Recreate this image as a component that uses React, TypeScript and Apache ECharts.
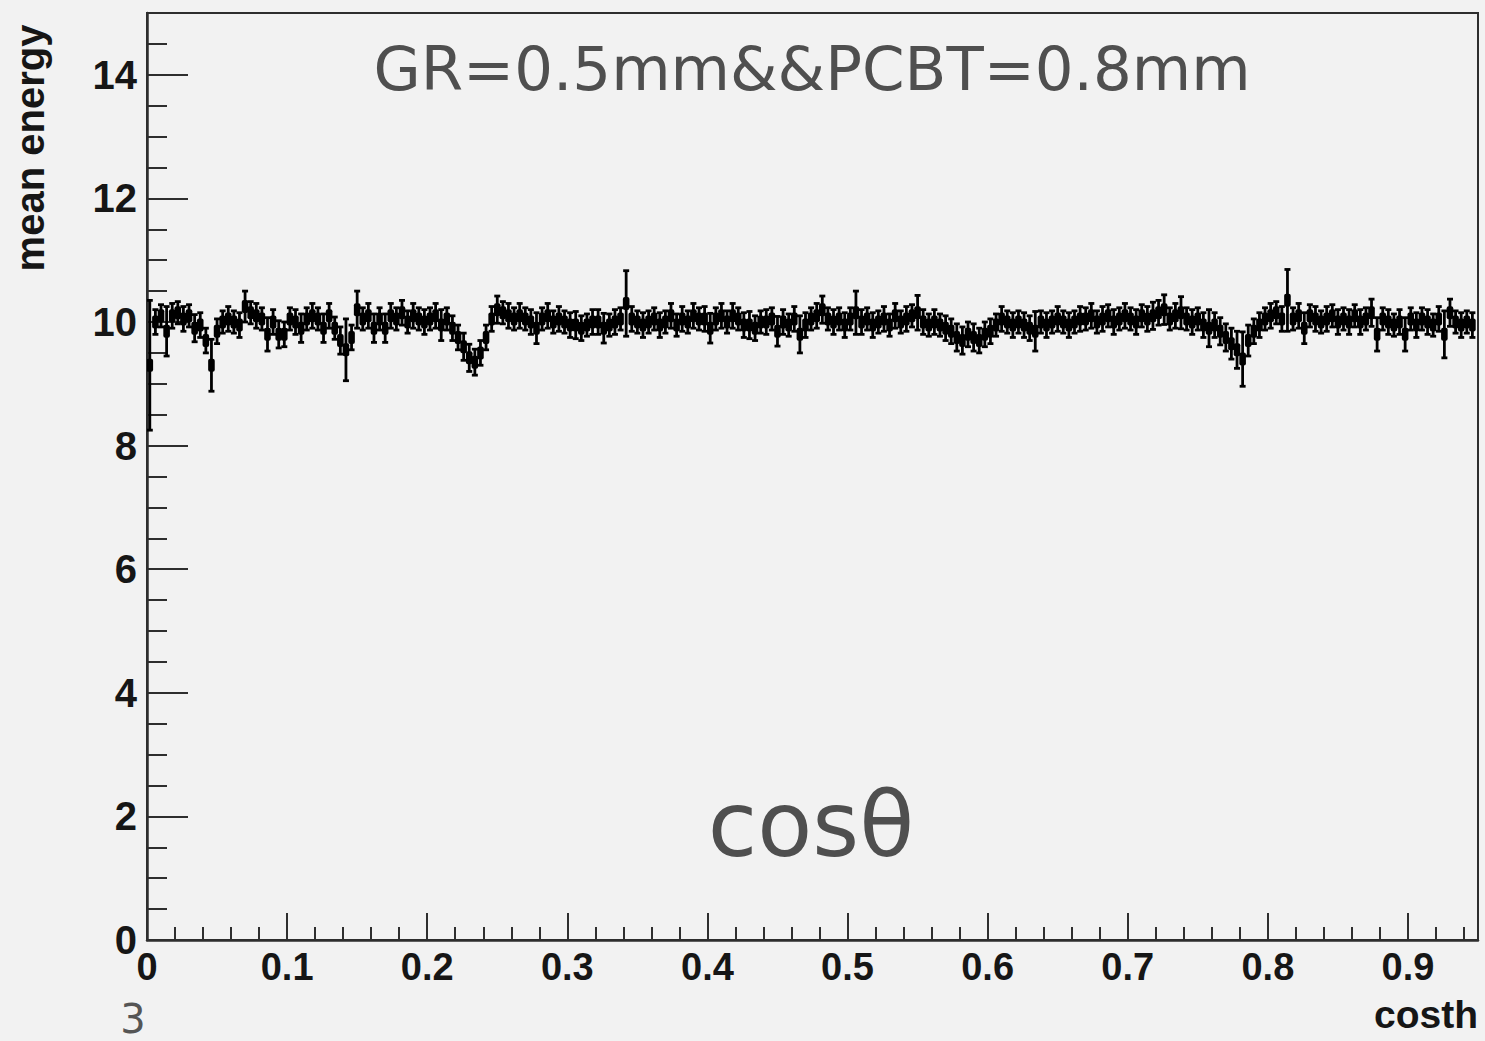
import React, { useEffect, useRef } from "react";
import * as echarts from "echarts";

// Histogram bins along costh
const BIN_START = 0.002;
const BIN_WIDTH = 0.004;

// mean energy per bin
const meanEnergy: number[] = [
  9.30, 10.00, 10.10, 9.85, 10.10, 10.15, 10.05, 10.10, 9.90, 9.95,
  9.70, 9.30, 9.85, 10.00, 10.05, 10.00, 9.95, 10.25, 10.15, 10.10,
  10.05, 9.80, 10.00, 9.80, 9.80, 10.05, 10.00, 9.90, 10.05, 10.10,
  10.05, 9.90, 10.10, 9.90, 9.70, 9.55, 9.75, 10.20, 10.05, 10.10,
  9.90, 10.05, 9.90, 10.10, 10.05, 10.15, 10.00, 10.10, 10.05, 10.00,
  10.05, 10.10, 9.95, 10.05, 9.90, 9.75, 9.60, 9.42, 9.35, 9.50,
  9.75, 10.05, 10.20, 10.15, 10.10, 10.05, 10.10, 10.05, 10.00, 9.90,
  10.05, 10.10, 10.00, 10.05, 10.00, 9.95, 9.95, 9.90, 9.95, 10.00,
  10.00, 9.90, 9.95, 10.00, 10.05, 10.30, 10.05, 10.00, 9.95, 10.00,
  10.05, 9.95, 10.00, 10.10, 9.95, 10.05, 10.00, 10.10, 10.05, 10.05,
  9.90, 10.05, 10.10, 10.00, 10.10, 10.05, 9.95, 9.95, 9.90, 10.00,
  10.00, 10.05, 9.85, 10.00, 9.95, 10.05, 9.80, 9.95, 10.05, 10.10,
  10.20, 10.05, 10.00, 10.05, 9.95, 10.05, 10.15, 10.00, 10.05, 9.95,
  10.00, 10.05, 9.95, 10.10, 10.00, 10.05, 10.10, 10.15, 10.00, 9.95,
  10.00, 9.95, 9.90, 9.85, 9.75, 9.70, 9.80, 9.75, 9.70, 9.80,
  9.85, 9.95, 10.05, 10.00, 9.95, 10.00, 9.95, 9.90, 9.85, 10.00,
  9.95, 10.00, 10.05, 10.00, 9.95, 10.00, 10.05, 10.05, 10.10, 10.00,
  10.05, 10.10, 10.00, 10.05, 10.10, 10.05, 10.00, 10.10, 10.05, 10.10,
  10.15, 10.20, 10.05, 10.10, 10.15, 10.05, 10.00, 10.05, 9.95, 9.90,
  9.95, 9.85, 9.75, 9.65, 9.55, 9.40, 9.70, 9.85, 9.95, 10.05,
  10.10, 10.15, 10.05, 10.35, 10.05, 10.10, 9.90, 10.10, 10.05, 10.00,
  10.05, 10.10, 10.00, 10.05, 10.00, 10.10, 10.00, 10.05, 10.15, 9.80,
  10.05, 10.00, 9.95, 10.00, 9.80, 10.05, 9.95, 10.05, 10.00, 9.95,
  10.05, 9.80, 10.15, 10.00, 9.95, 10.00, 9.95,
];

// error per bin
const meanEnergyErr: number[] = [
  1.05, 0.20, 0.18, 0.40, 0.20, 0.18, 0.20, 0.18, 0.22, 0.20,
  0.20, 0.42, 0.20, 0.18, 0.20, 0.18, 0.20, 0.25, 0.18, 0.20,
  0.18, 0.27, 0.20, 0.22, 0.20, 0.18, 0.20, 0.23, 0.18, 0.20,
  0.18, 0.23, 0.20, 0.18, 0.22, 0.50, 0.20, 0.30, 0.18, 0.20,
  0.23, 0.18, 0.23, 0.20, 0.18, 0.20, 0.18, 0.20, 0.18, 0.20,
  0.18, 0.20, 0.25, 0.18, 0.20, 0.20, 0.22, 0.22, 0.21, 0.20,
  0.20, 0.20, 0.22, 0.18, 0.20, 0.18, 0.20, 0.18, 0.20, 0.25,
  0.18, 0.20, 0.18, 0.20, 0.18, 0.20, 0.22, 0.20, 0.18, 0.20,
  0.20, 0.24, 0.18, 0.20, 0.18, 0.53, 0.20, 0.18, 0.20, 0.18,
  0.18, 0.20, 0.18, 0.20, 0.18, 0.20, 0.18, 0.20, 0.18, 0.20,
  0.24, 0.18, 0.20, 0.18, 0.20, 0.18, 0.20, 0.22, 0.20, 0.18,
  0.20, 0.18, 0.24, 0.20, 0.18, 0.20, 0.30, 0.20, 0.18, 0.20,
  0.22, 0.18, 0.20, 0.18, 0.20, 0.18, 0.35, 0.20, 0.18, 0.20,
  0.18, 0.20, 0.18, 0.20, 0.18, 0.20, 0.18, 0.28, 0.20, 0.18,
  0.20, 0.18, 0.20, 0.20, 0.22, 0.22, 0.20, 0.22, 0.20, 0.20,
  0.20, 0.18, 0.20, 0.18, 0.20, 0.18, 0.20, 0.20, 0.32, 0.18,
  0.20, 0.18, 0.20, 0.18, 0.20, 0.18, 0.20, 0.18, 0.20, 0.18,
  0.20, 0.18, 0.20, 0.18, 0.20, 0.18, 0.20, 0.18, 0.20, 0.22,
  0.20, 0.24, 0.18, 0.20, 0.26, 0.18, 0.20, 0.18, 0.20, 0.30,
  0.20, 0.22, 0.22, 0.25, 0.30, 0.44, 0.25, 0.20, 0.20, 0.18,
  0.20, 0.18, 0.20, 0.50, 0.18, 0.20, 0.25, 0.18, 0.20, 0.18,
  0.20, 0.18, 0.20, 0.18, 0.20, 0.18, 0.20, 0.18, 0.22, 0.27,
  0.18, 0.20, 0.18, 0.20, 0.27, 0.18, 0.20, 0.18, 0.20, 0.18,
  0.20, 0.38, 0.22, 0.18, 0.20, 0.18, 0.20,
];

const X_LABELS = ["0", "0.1", "0.2", "0.3", "0.4", "0.5", "0.6", "0.7", "0.8", "0.9"];
const Y_LABELS = ["0", "2", "4", "6", "8", "10", "12", "14"];

const TITLE = "GR=0.5mm&&PCBT=0.8mm";
const X_NAME = "costh";
const Y_NAME = "mean energy";

const AXIS_COLOR = "#2e2e2e";
const LABEL_COLOR = "#161616";
const TEXT_GRAY = "#4f4f4f";

export default function App() {
  const ref = useRef<HTMLDivElement>(null);

  useEffect(() => {
    const chart = echarts.init(ref.current!, null, { renderer: "svg" });
    const data = meanEnergy.map((v, i) => [BIN_START + i * BIN_WIDTH, v, meanEnergyErr[i]]);

    const labelStyle = {
      color: LABEL_COLOR,
      fontFamily: "Liberation Sans, Arial, sans-serif",
      fontWeight: "bold" as const,
    };

    chart.setOption({
      animation: false,
      backgroundColor: "#f2f2f2",
      grid: {
        left: 147,
        right: 7,
        top: 13,
        bottom: 101,
        show: true,
        borderColor: AXIS_COLOR,
        borderWidth: 2,
        backgroundColor: "transparent",
        containLabel: false,
      },
      xAxis: [
        {
          type: "value",
          min: 0,
          max: 0.95,
          interval: 0.02,
          axisLine: { show: true, lineStyle: { color: AXIS_COLOR, width: 2.5 } },
          axisTick: { show: true, inside: true, length: 13, lineStyle: { color: AXIS_COLOR, width: 2 } },
          axisLabel: {
            ...labelStyle,
            fontSize: 38,
            margin: 8,
            formatter: (v: number) => {
              const k = Math.round(v * 100);
              return k % 10 === 0 && k <= 90 ? X_LABELS[k / 10] : "";
            },
          },
          splitLine: { show: false },
        },
        {
          type: "value",
          min: 0,
          max: 0.95,
          interval: 0.1,
          position: "bottom",
          axisLine: { show: false },
          axisTick: { show: true, inside: true, length: 27, lineStyle: { color: AXIS_COLOR, width: 2 } },
          axisLabel: { show: false },
          splitLine: { show: false },
        },
      ],
      yAxis: [
        {
          type: "value",
          min: 0,
          max: 15,
          interval: 0.5,
          axisLine: { show: true, lineStyle: { color: AXIS_COLOR, width: 2.5 } },
          axisTick: { show: true, inside: true, length: 20, lineStyle: { color: AXIS_COLOR, width: 2 } },
          axisLabel: {
            ...labelStyle,
            fontSize: 40,
            margin: 10,
            formatter: (v: number) => {
              const k = Math.round(v * 10);
              return k % 20 === 0 && k <= 140 ? Y_LABELS[k / 20] : "";
            },
          },
          splitLine: { show: false },
        },
        {
          type: "value",
          min: 0,
          max: 15,
          interval: 2,
          position: "left",
          axisLine: { show: false },
          axisTick: { show: true, inside: true, length: 41, lineStyle: { color: AXIS_COLOR, width: 2 } },
          axisLabel: { show: false },
          splitLine: { show: false },
        },
      ],
      series: [
        {
          type: "custom",
          xAxisIndex: 0,
          yAxisIndex: 0,
          clip: true,
          data,
          encode: { x: 0, y: 1 },
          renderItem: (params: any, api: any) => {
            const x = api.value(0);
            const y = api.value(1);
            const e = api.value(2);
            const top = api.coord([x, y + e]);
            const bot = api.coord([x, y - e]);
            const l = api.coord([x - BIN_WIDTH / 2, y]);
            const r = api.coord([x + BIN_WIDTH / 2, y]);
            const cap = 3;
            const style = { stroke: "#000", lineWidth: 2.8 };
            const blobH = 13;
            return {
              type: "group",
              children: [
                { type: "line", shape: { x1: top[0], y1: top[1], x2: bot[0], y2: bot[1] }, style },
                { type: "line", shape: { x1: top[0] - cap, y1: top[1], x2: top[0] + cap, y2: top[1] }, style },
                { type: "line", shape: { x1: bot[0] - cap, y1: bot[1], x2: bot[0] + cap, y2: bot[1] }, style },
                {
                  type: "rect",
                  shape: { x: l[0] - 0.5, y: l[1] - blobH / 2, width: r[0] - l[0] + 1, height: blobH, r: 2 },
                  style: { fill: "#000" },
                },
              ],
            };
          },
        },
      ],
      graphic: [
        {
          type: "text",
          x: 812,
          y: 68,
          style: {
            text: TITLE,
            fill: TEXT_GRAY,
            font: '61px "DejaVu Sans", sans-serif',
            textAlign: "center",
            verticalAlign: "middle",
          },
        },
        {
          type: "text",
          x: 811,
          y: 824,
          style: {
            text: "cosθ",
            fill: TEXT_GRAY,
            font: '90px "DejaVu Sans", sans-serif',
            textAlign: "center",
            verticalAlign: "middle",
          },
        },
        {
          type: "text",
          x: 133,
          y: 1019,
          style: {
            text: "3",
            fill: "#555",
            font: '40px "DejaVu Sans", sans-serif',
            textAlign: "center",
            verticalAlign: "middle",
          },
        },
        {
          type: "text",
          x: 1478,
          y: 1014,
          style: {
            text: X_NAME,
            fill: LABEL_COLOR,
            font: 'bold 39px "Liberation Sans", Arial, sans-serif',
            textAlign: "right",
            verticalAlign: "middle",
          },
        },
        {
          type: "text",
          x: 30,
          y: 148,
          rotation: Math.PI / 2,
          style: {
            text: Y_NAME,
            fill: LABEL_COLOR,
            font: 'bold 40px "Liberation Sans", Arial, sans-serif',
            textAlign: "center",
            verticalAlign: "middle",
          },
        },
      ],
    });

    return () => chart.dispose();
  }, []);

  return (
    <div
      ref={ref}
      style={{ position: "fixed", left: 0, top: 0, width: 1485, height: 1041, background: "#f2f2f2" }}
    />
  );
}
